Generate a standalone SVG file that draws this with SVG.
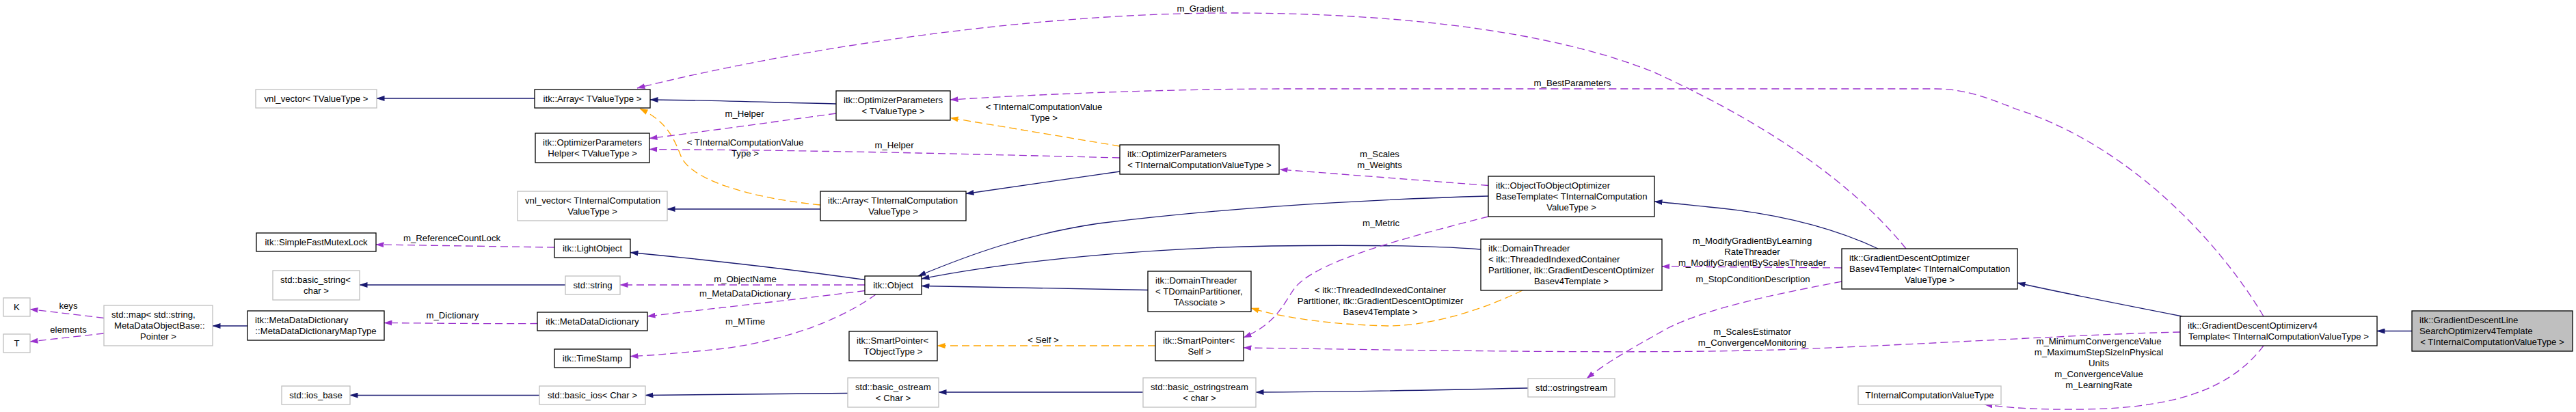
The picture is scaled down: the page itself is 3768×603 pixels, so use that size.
<svg xmlns="http://www.w3.org/2000/svg" width="3768" height="603" viewBox="0 0 3768 603">
<defs>
<style>
text{font-family:"Liberation Sans",Arial,Helvetica,sans-serif;font-size:13.2px;fill:#000}
.c{text-anchor:middle}
.nb rect{fill:#fff;stroke:#000;stroke-width:1.3}
.ng rect{fill:#fff;stroke:#bfbfbf;stroke-width:1.3}
.nf rect{fill:#bfbfbf;stroke:#000;stroke-width:1.3}
#edges path{fill:none;stroke-width:1.3}
#edges .inh{stroke:#191970;marker-end:url(#an)}
#edges .mem{stroke:#9a32cd;stroke-dasharray:11,6;marker-end:url(#ap)}
#edges .tpl{stroke:#ffa500;stroke-dasharray:11,6;marker-end:url(#ao)}
</style>
<marker id="an" viewBox="0 0 12 8" refX="11.5" refY="4" markerWidth="12" markerHeight="8" markerUnits="userSpaceOnUse" orient="auto"><path d="M0,0 L12,4 L0,8 z" fill="#191970"/></marker>
<marker id="ap" viewBox="0 0 12 8" refX="11.5" refY="4" markerWidth="12" markerHeight="8" markerUnits="userSpaceOnUse" orient="auto"><path d="M0,0 L12,4 L0,8 z" fill="#9a32cd"/></marker>
<marker id="ao" viewBox="0 0 12 8" refX="11.5" refY="4" markerWidth="12" markerHeight="8" markerUnits="userSpaceOnUse" orient="auto"><path d="M0,0 L12,4 L0,8 z" fill="#ffa500"/></marker>
</defs>
<rect x="0" y="0" width="3768" height="603" fill="#fff"/>

<g id="edges">
<path class="mem" d="M152,465.5 L44,452.5"/>
<path class="mem" d="M152,488 L44,500"/>
<path class="inh" d="M362,477 L311,477"/>
<path class="mem" d="M786,473.5 C720,474 620,473 562,472.5"/>
<path class="inh" d="M782,144 L551,144"/>
<path class="inh" d="M1223,152 C1100,149 1000,146 951,146"/>
<path class="mem" d="M2788,364 C2700,255 2560,170 2420,106 C2250,37 2000,19 1800,19 C1500,19 1150,74 932,129"/>
<path class="tpl" d="M1200,300 C1100,290 1015,265 997,231 C985,200 975,178 936,159"/>
<path class="mem" d="M1223,166 C1120,180 1020,194 950,202.5"/>
<path class="mem" d="M1638,231 C1400,225 1200,220 950,218.5"/>
<path class="tpl" d="M1638,214 L1390,172.5"/>
<path class="mem" d="M3311,463 C3250,360 3120,215 2950,160 C2900,140 2870,130 2830,130 L1880,130 C1700,130 1500,139 1390,146"/>
<path class="mem" d="M2177,271.5 L1872,248"/>
<path class="inh" d="M1638,251 L1413,283.5"/>
<path class="inh" d="M1200,306 C1100,306.5 1030,306 976,306"/>
<path class="mem" d="M811,362 L550,358"/>
<path class="inh" d="M1265,409.5 C1150,393 1000,377 922,369.5"/>
<path class="mem" d="M1265,417 L907,417"/>
<path class="mem" d="M1265,425.5 C1150,440 1020,454 947,463"/>
<path class="mem" d="M1281,431 C1230,468 1150,498 1060,510 C1000,516 960,520 922,521.5"/>
<path class="inh" d="M2177,287 C2000,292 1800,303 1607,327 C1500,343 1420,372 1343,404"/>
<path class="inh" d="M1679,424.5 L1348,418.5"/>
<path class="inh" d="M2166,365 C2100,360 2000,358 1860,360 C1700,363 1500,378 1348,408"/>
<path class="tpl" d="M2227,425 C2150,462 2080,477 2030,477 C1950,475 1880,466 1830,451"/>
<path class="tpl" d="M1690,506 L1371,506"/>
<path class="mem" d="M2177,317 C2060,347 1930,380 1895,420 C1878,442 1870,472 1819,494"/>
<path class="mem" d="M3189,486 C3050,489 2800,505 2600,512 C2400,518 2100,513 1819,509"/>
<path class="mem" d="M2694,392 L2431,390"/>
<path class="mem" d="M2694,412 C2600,430 2500,450 2440,480 C2390,508 2350,530 2321,554"/>
<path class="inh" d="M2235,568 C2100,571 1950,574 1837,574"/>
<path class="inh" d="M1672,574 L1373,574"/>
<path class="inh" d="M1240,575.5 C1100,576.5 1000,578 944,578.5"/>
<path class="inh" d="M789,578.5 L512,578.5"/>
<path class="inh" d="M827,417 L526,417"/>
<path class="inh" d="M3192,463 C3100,445 3000,425 2951,414"/>
<path class="inh" d="M2747,364 C2700,342 2620,314 2500,303 C2470,300 2445,297 2420,295"/>
<path class="inh" d="M3528,484.5 L3477,484.5"/>
<path class="mem" d="M3311,506 C3270,560 3200,597 3050,599 C2980,600 2940,597 2903,592"/>
</g>

<g id="edge-labels">
<text class="c" x="100" y="451.5">keys</text>
<text class="c" x="100" y="486.5">elements</text>
<text class="c" x="661" y="352.5">m_ReferenceCountLock</text>
<text class="c" x="662" y="466">m_Dictionary</text>
<text class="c" x="1089" y="170.5">m_Helper</text>
<text class="c" x="1090" y="213">&lt; TInternalComputationValue</text>
<text class="c" x="1090" y="229">Type &gt;</text>
<text class="c" x="1090" y="412.5">m_ObjectName</text>
<text class="c" x="1090" y="433.5">m_MetaDataDictionary</text>
<text class="c" x="1090" y="475">m_MTime</text>
<text class="c" x="1756" y="16.5">m_Gradient</text>
<text class="c" x="1527" y="160.5">&lt; TInternalComputationValue</text>
<text class="c" x="1527" y="176.5">Type &gt;</text>
<text class="c" x="1308" y="217">m_Helper</text>
<text class="c" x="1526" y="501.5">&lt; Self &gt;</text>
<text class="c" x="2300" y="125.5">m_BestParameters</text>
<text class="c" x="2018" y="229.5">m_Scales</text>
<text class="c" x="2018" y="245.5">m_Weights</text>
<text class="c" x="2020" y="331">m_Metric</text>
<text class="c" x="2019" y="428.5">&lt; itk::ThreadedIndexedContainer</text>
<text class="c" x="2019" y="444.5">Partitioner, itk::GradientDescentOptimizer</text>
<text class="c" x="2019" y="460.5">Basev4Template &gt;</text>
<text class="c" x="2563" y="357">m_ModifyGradientByLearning</text>
<text class="c" x="2563" y="373">RateThreader</text>
<text class="c" x="2563" y="389">m_ModifyGradientByScalesThreader</text>
<text class="c" x="2564" y="412.5">m_StopConditionDescription</text>
<text class="c" x="2563" y="490">m_ScalesEstimator</text>
<text class="c" x="2563" y="506">m_ConvergenceMonitoring</text>
<text class="c" x="3070" y="503.5">m_MinimumConvergenceValue</text>
<text class="c" x="3070" y="519.5">m_MaximumStepSizeInPhysical</text>
<text class="c" x="3070" y="535.5">Units</text>
<text class="c" x="3070" y="551.5">m_ConvergenceValue</text>
<text class="c" x="3070" y="567.5">m_LearningRate</text>
</g>

<g id="n-vnl-tvalue" class="ng"><rect x="374" y="131" width="177" height="27"/><text class="c" x="462.5" y="149">vnl_vector&lt; TValueType &gt;</text></g>
<g id="n-mutex" class="nb"><rect x="375" y="341" width="175" height="27"/><text class="c" x="462.5" y="359">itk::SimpleFastMutexLock</text></g>
<g id="n-basic-string" class="ng"><rect x="399" y="396" width="127" height="43"/><text x="410" y="414">std::basic_string&lt;</text><text class="c" x="462.5" y="430">char &gt;</text></g>
<g id="n-K" class="ng"><rect x="5" y="436" width="39" height="27"/><text class="c" x="24.5" y="454">K</text></g>
<g id="n-T" class="ng"><rect x="5" y="489" width="39" height="27"/><text class="c" x="24.5" y="507">T</text></g>
<g id="n-map" class="ng"><rect x="152" y="447" width="159" height="59"/><text x="163" y="465">std::map&lt; std::string,</text><text x="167" y="481">MetaDataObjectBase::</text><text class="c" x="231.5" y="497">Pointer &gt;</text></g>
<g id="n-maptype" class="nb"><rect x="362" y="455" width="200" height="43"/><text x="373" y="473">itk::MetaDataDictionary</text><text class="c" x="462" y="489">::MetaDataDictionaryMapType</text></g>
<g id="n-ios-base" class="ng"><rect x="412" y="565" width="100" height="27"/><text class="c" x="462" y="583">std::ios_base</text></g>

<g id="n-array-tvalue" class="nb"><rect x="782" y="131" width="169" height="27"/><text class="c" x="866.5" y="149">itk::Array&lt; TValueType &gt;</text></g>
<g id="n-helper" class="nb"><rect x="783" y="195" width="167" height="43"/><text x="794" y="213">itk::OptimizerParameters</text><text class="c" x="866.5" y="229">Helper&lt; TValueType &gt;</text></g>
<g id="n-vnl-tic" class="ng"><rect x="757" y="280" width="219" height="43"/><text x="768" y="298">vnl_vector&lt; TInternalComputation</text><text class="c" x="866.5" y="314">ValueType &gt;</text></g>
<g id="n-lightobject" class="nb"><rect x="811" y="350" width="111" height="27"/><text class="c" x="866.5" y="368">itk::LightObject</text></g>
<g id="n-string" class="ng"><rect x="827" y="404" width="80" height="27"/><text class="c" x="867" y="422">std::string</text></g>
<g id="n-mdd" class="nb"><rect x="786" y="457" width="161" height="27"/><text class="c" x="866.5" y="475">itk::MetaDataDictionary</text></g>
<g id="n-timestamp" class="nb"><rect x="811" y="511" width="111" height="27"/><text class="c" x="866.5" y="529">itk::TimeStamp</text></g>
<g id="n-basic-ios" class="ng"><rect x="789" y="565" width="155" height="27"/><text class="c" x="866.5" y="583">std::basic_ios&lt; Char &gt;</text></g>

<g id="n-op-tvalue" class="nb"><rect x="1223" y="133" width="167" height="43"/><text x="1234" y="151">itk::OptimizerParameters</text><text class="c" x="1306.5" y="167">&lt; TValueType &gt;</text></g>
<g id="n-array-tic" class="nb"><rect x="1200" y="280" width="213" height="43"/><text x="1211" y="298">itk::Array&lt; TInternalComputation</text><text class="c" x="1306.5" y="314">ValueType &gt;</text></g>
<g id="n-object" class="nb"><rect x="1265" y="404" width="83" height="27"/><text class="c" x="1306.5" y="422">itk::Object</text></g>
<g id="n-sp-tobj" class="nb"><rect x="1242" y="485" width="129" height="43"/><text x="1253" y="503">itk::SmartPointer&lt;</text><text class="c" x="1306.5" y="519">TObjectType &gt;</text></g>
<g id="n-basic-ostream" class="ng"><rect x="1240" y="553" width="133" height="43"/><text x="1251" y="571">std::basic_ostream</text><text class="c" x="1306.5" y="587">&lt; Char &gt;</text></g>

<g id="n-op-tic" class="nb"><rect x="1638" y="212" width="233" height="43"/><text x="1649" y="230">itk::OptimizerParameters</text><text class="c" x="1754.5" y="246">&lt; TInternalComputationValueType &gt;</text></g>
<g id="n-dt1" class="nb"><rect x="1679" y="397" width="151" height="59"/><text x="1690" y="415">itk::DomainThreader</text><text x="1690" y="431">&lt; TDomainPartitioner,</text><text class="c" x="1754.5" y="447">TAssociate &gt;</text></g>
<g id="n-sp-self" class="nb"><rect x="1690" y="485" width="129" height="43"/><text x="1701" y="503">itk::SmartPointer&lt;</text><text class="c" x="1754.5" y="519">Self &gt;</text></g>
<g id="n-basic-ostringstream" class="ng"><rect x="1672" y="553" width="165" height="43"/><text x="1683" y="571">std::basic_ostringstream</text><text class="c" x="1754.5" y="587">&lt; char &gt;</text></g>

<g id="n-oto" class="nb"><rect x="2177" y="258" width="243" height="59"/><text x="2188" y="276">itk::ObjectToObjectOptimizer</text><text x="2188" y="292">BaseTemplate&lt; TInternalComputation</text><text class="c" x="2298.5" y="308">ValueType &gt;</text></g>
<g id="n-dt2" class="nb"><rect x="2166" y="350" width="265" height="75"/><text x="2177" y="368">itk::DomainThreader</text><text x="2177" y="384">&lt; itk::ThreadedIndexedContainer</text><text x="2177" y="400">Partitioner, itk::GradientDescentOptimizer</text><text class="c" x="2298.5" y="416">Basev4Template &gt;</text></g>
<g id="n-ostringstream" class="ng"><rect x="2235" y="554" width="127" height="27"/><text class="c" x="2298.5" y="572">std::ostringstream</text></g>

<g id="n-gdobase" class="nb"><rect x="2694" y="364" width="257" height="59"/><text x="2705" y="382">itk::GradientDescentOptimizer</text><text x="2705" y="398">Basev4Template&lt; TInternalComputation</text><text class="c" x="2822.5" y="414">ValueType &gt;</text></g>
<g id="n-ticvt" class="ng"><rect x="2718" y="565" width="209" height="27"/><text class="c" x="2822.5" y="583">TInternalComputationValueType</text></g>

<g id="n-gdv4" class="nb"><rect x="3189" y="463" width="288" height="43"/><text x="3200" y="481">itk::GradientDescentOptimizerv4</text><text class="c" x="3333" y="497">Template&lt; TInternalComputationValueType &gt;</text></g>
<g id="n-gdls" class="nf"><rect x="3528" y="455" width="235" height="59"/><text x="3539" y="473">itk::GradientDescentLine</text><text x="3539" y="489">SearchOptimizerv4Template</text><text class="c" x="3645.5" y="505">&lt; TInternalComputationValueType &gt;</text></g>
</svg>
